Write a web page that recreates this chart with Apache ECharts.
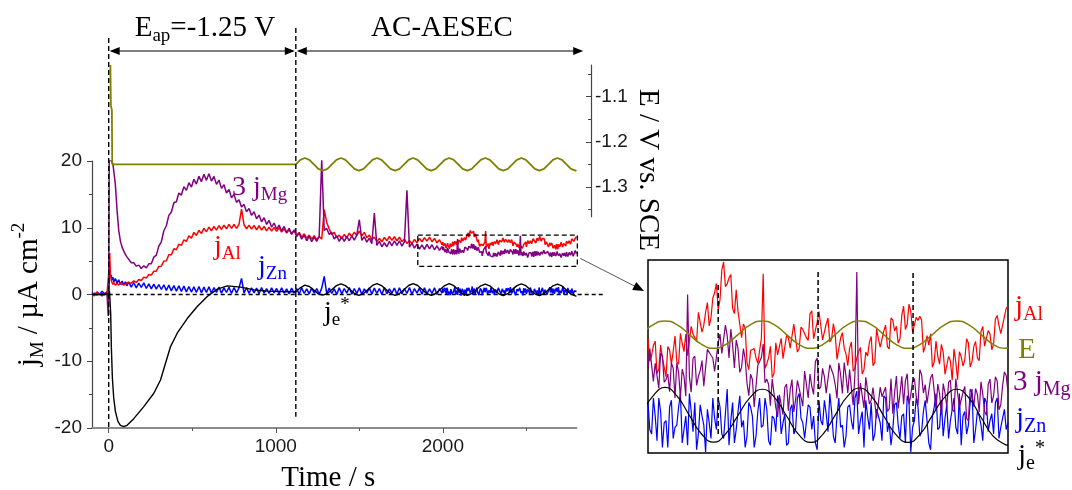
<!DOCTYPE html>
<html>
<head>
<meta charset="utf-8">
<script src="https://cdn.jsdelivr.net/npm/echarts@6/dist/echarts.min.js"></script>
<style>
html,body{margin:0;padding:0;background:#fff;}
#chart{width:1072px;height:490px;}
</style>
</head>
<body>
<div id="chart"></div>
<script>
// ---------- element-resolved currents (µA cm-2), t < 2000 s ----------
const timeEarly = [-100,-85,-70,-55,-40,-25,-10,-3,0,3,6,10,15,20,25,30,40,50,60,70,80,90,100,110,
  120,135,150,165,180,195,210,225,240,255,270,285,300,315,330,345,360,375,390,405,420,435,450,465,480,495,
  510,525,540,555,570,585,600,615,630,645,660,675,690,705,720,735,750,765,780,795,810,825,840,855,870,885,
  900,915,930,945,960,975,990,1005,1020,1035,1050,1065,1080,1095,1110,1125,1140,1155,1170,1185,1200,1215,
  1230,1245,1260,1275,1290,1305,1320,1335,1350,1365,1380,1395,1410,1425,1440,1455,1470,1485,1500,1515,
  1530,1545,1560,1575,1590,1605,1620,1635,1650,1665,1680,1695,1710,1725,1740,1755,1770,1785,1800,1815,
  1830,1845,1860,1875,1890,1905,1920,1935,1950,1965,1980,1995];

const alEarly = [0.1,-0.2,0.3,0.0,0.2,-0.1,0.2,0.0,0.3,4.0,6.2,3.2,2.2,1.8,1.5,1.8,1.4,1.7,1.4,1.8,1.5,1.7,1.5,1.8,
  1.95,1.7,2.05,1.8,2.25,2.1,2.6,2.45,3.0,2.9,
  3.5,3.5,4.2,4.25,5.0,5.05,5.95,5.95,6.85,6.7,
  7.55,7.35,8.2,7.95,8.8,8.45,9.3,8.85,9.6,9.15,
  9.9,9.4,10.1,9.55,10.2,9.65,10.3,9.75,10.4,9.85,
  10.5,9.9,10.5,9.9,10.5,12.8,10.45,9.85,10.4,9.8,
  10.35,9.7,10.3,9.65,10.2,9.55,10.1,9.5,10.05,9.45,
  10.0,9.35,9.85,9.2,9.7,9.05,9.6,8.9,9.3,8.6,
  9.1,8.45,8.9,8.3,8.8,8.2,8.7,8.3,12.7,10.8,
  9.8,9.0,9.3,8.5,8.9,8.35,9.0,8.5,9.2,8.7,
  9.35,8.85,9.5,8.8,9.3,8.5,8.9,8.2,8.6,7.95,
  8.4,7.9,8.55,8.05,8.7,8.1,8.65,8.05,8.6,7.9,
  8.3,7.65,8.1,7.6,8.25,7.75,8.4,7.9,8.5,8.0,
  8.6,7.9,8.4,7.75,8.2,7.45];

// 3 x j_Mg
const mgEarly = [0.0,0.2,-0.1,0.1,-0.2,0.1,0.0,-3.2,0.5,20.5,20.4,20.2,20.1,19.9,19.6,18.6,16.4,12.6,9.6,8.0,7.1,6.5,6.0,5.6,
  5.4,4.75,4.75,4.25,4.4,3.9,4.3,4.0,4.6,4.6,
  5.6,5.9,7.25,7.9,9.55,10.3,11.85,12.35,13.75,13.9,
  15.2,14.9,16.15,15.6,16.75,16.1,17.25,16.55,17.7,16.9,
  18.0,17.1,18.1,17.0,17.7,16.5,17.15,15.9,16.45,15.2,
  15.75,14.5,15.0,13.8,14.2,13.1,13.5,12.4,12.9,11.85,
  12.4,11.35,11.9,10.9,11.5,10.5,11.1,10.1,10.7,9.8,
  10.4,9.55,10.2,9.3,9.9,9.05,9.7,8.7,9.2,8.3,
  8.9,8.05,8.7,7.9,8.6,7.95,8.8,20.2,9.6,9.9,
  9.0,9.3,8.3,8.8,7.95,8.65,7.95,8.7,8.05,8.8,
  8.15,8.9,11.2,8.1,8.65,7.85,8.45,7.6,12.2,7.35,
  7.95,7.15,7.75,7.15,7.95,7.3,8.05,7.35,8.05,7.25,
  7.9,15.6,7.1,7.7,6.95,7.55,6.8,7.45,6.75,7.5,
  6.85,7.45,6.7,7.3,6.6,7.2];

const znEarly = [0.3,-0.1,0.4,0.0,0.5,0.1,0.4,-1.0,0.6,1.8,3.2,2.6,2.9,2.2,2.6,1.9,2.4,1.7,2.2,1.5,2.0,1.4,1.9,1.3,
  1.9,1.1,1.8,1.0,1.7,1.05,1.75,0.9,1.6,0.85,
  1.55,0.8,1.5,0.75,1.45,0.6,1.4,0.55,1.35,0.5,
  1.3,0.45,1.25,0.4,1.2,0.35,1.15,0.3,1.2,0.25,
  1.1,0.3,1.15,0.2,1.05,0.3,1.1,0.2,1.0,0.3,
  1.1,0.15,1.05,0.25,1.0,2.4,0.2,1.05,0.15,1.0,
  0.25,0.95,0.1,1.05,0.2,0.9,0.15,1.0,0.25,0.9,
  0.1,1.0,0.2,0.85,0.1,0.95,0.2,0.9,0.05,1.0,
  0.15,0.85,0.1,0.95,0.2,0.9,0.05,0.95,2.7,0.1,
  0.95,0.15,0.85,0.0,1.0,0.1,0.9,0.2,1.05,0.05,
  0.9,0.15,1.0,0.0,0.85,0.2,1.0,0.05,0.95,0.15,
  0.9,0.0,1.05,0.1,0.85,0.2,0.95,0.05,1.0,0.1,
  0.9,0.15,1.05,0.0,0.9,0.2,0.95,0.05,1.0,0.1,
  0.85,0.15,1.0,0.0,0.9,0.2];

// ---------- 2000 - 2800 s (also shown enlarged): samples at 2000 + 8k ----------
const timeLate = [2000,2008,2016,2024,2032,2040,2048,2056,2064,2072,2080,2088,2096,2104,2112,2120,2128,2136,2144,2152,
  2160,2168,2176,2184,2192,2200,2208,2216,2224,2232,2240,2248,2256,2264,2272,2280,2288,2296,2304,2312,
  2320,2328,2336,2344,2352,2360,2368,2376,2384,2392,2400,2408,2416,2424,2432,2440,2448,2456,2464,2472,
  2480,2488,2496,2504,2512,2520,2528,2536,2544,2552,2560,2568,2576,2584,2592,2600,2608,2616,2624,2632,
  2640,2648,2656,2664,2672,2680,2688,2696,2704,2712,2720,2728,2736,2744,2752,2760,2768,2776,2784,2792,2800];

const alLate = [7.84,7.40,7.77,7.05,7.34,6.86,7.54,7.51,7.24,7.97,
  7.50,7.40,8.15,7.95,8.51,8.00,8.51,8.16,8.87,9.25,
  8.83,9.80,9.24,9.48,8.48,8.54,7.86,8.10,7.04,7.51,
  7.34,7.20,9.50,7.19,7.64,6.94,7.42,7.84,7.34,7.85,
  7.62,8.25,7.58,8.07,7.86,8.47,7.83,8.26,8.49,7.75,
  8.36,7.83,7.95,7.25,7.99,7.44,7.59,7.00,7.34,7.61,
  7.04,7.39,7.89,7.23,7.82,7.62,8.18,7.57,8.31,8.15,
  7.83,8.67,8.21,8.53,8.01,8.30,8.31,7.65,7.67,7.10,
  7.77,7.18,7.49,6.90,7.26,7.57,6.78,7.37,7.29,7.72,
  7.24,7.76,7.27,8.15,7.67,7.95,7.70,8.43,7.96,8.40,
  8.67];

const mgLate = [6.64,7.06,6.77,6.22,6.93,6.41,6.14,6.66,6.78,6.00,
  6.48,8.30,6.13,6.93,6.48,6.83,6.29,7.06,6.89,6.63,
  7.42,6.95,7.39,7.53,6.67,7.10,6.68,6.86,6.05,6.41,
  5.83,6.70,7.20,6.42,5.83,6.40,5.58,6.06,6.24,5.72,
  6.41,5.96,6.21,5.82,6.57,6.53,6.08,6.89,6.25,6.47,
  6.10,6.72,6.30,6.78,6.10,6.48,6.63,5.84,8.80,6.33,
  5.78,6.44,5.95,6.21,5.54,6.03,6.24,5.76,5.65,6.49,
  6.10,5.86,6.54,6.07,6.43,5.84,6.52,6.30,5.91,6.53,
  5.73,6.09,6.32,5.80,6.40,5.70,6.11,5.83,6.26,5.49,
  6.10,6.21,5.69,6.08,5.62,6.42,6.05,6.38,5.85,6.58,
  6.12];

const znLate = [0.9,0.2,0.6,1.0,-0.1,0.5,0.8,0.1,0.4,1.1,
  0.3,-0.05,0.7,0.9,0.2,0.6,-0.2,0.45,1.0,0.3,
  0.8,0.1,1.2,0.5,0.0,0.7,0.35,-0.1,0.9,0.6,
  0.15,1.0,0.4,0.75,-0.05,0.55,1.05,0.2,0.65,0.0,
  0.85,0.3,1.1,0.45,0.1,0.8,0.6,-0.15,0.5,0.95,
  0.25,0.7,0.0,1.0,0.4,0.15,0.85,0.3,1.15,0.5,
  -0.1,0.6,0.9,0.2,0.75,0.05,1.0,0.45,0.3,0.9,
  0.1,0.65,1.05,-0.2,0.5,0.8,0.25,0.95,0.0,0.6,
  1.1,0.35,0.15,0.85,0.5,1.0,0.2,-0.05,0.7,0.4,
  1.2,0.3,0.6,0.05,0.9,0.5,0.2,1.0,0.35,0.75,
  0.45];

// ---------- same window, samples at 2004 + 8k ----------
const timeLateMid = [2004,2012,2020,2028,2036,2044,2052,2060,2068,2076,2084,2092,2100,2108,2116,2124,2132,2140,2148,2156,
  2164,2172,2180,2188,2196,2204,2212,2220,2228,2236,2244,2252,2260,2268,2276,2284,2292,2300,2308,2316,
  2324,2332,2340,2348,2356,2364,2372,2380,2388,2396,2404,2412,2420,2428,2436,2444,2452,2460,2468,2476,
  2484,2492,2500,2508,2516,2524,2532,2540,2548,2556,2564,2572,2580,2588,2596,2604,2612,2620,2628,2636,
  2644,2652,2660,2668,2676,2684,2692,2700,2708,2716,2724,2732,2740,2748,2756,2764,2772,2780,2788,2796];

const alLateMid = [7.25,7.66,6.94,7.67,7.30,7.63,7.18,7.90,7.18,7.71,
  7.95,7.40,7.95,7.76,8.53,8.18,8.76,8.37,9.01,8.59,
  9.59,9.17,9.39,8.61,9.09,8.20,8.21,7.22,7.53,7.58,
  7.20,7.85,7.07,7.34,6.84,7.73,7.63,7.32,7.92,7.59,
  8.21,7.49,8.13,8.02,7.79,8.55,8.05,8.53,7.80,8.21,
  7.75,8.22,7.30,7.85,7.59,7.14,7.75,7.07,7.50,6.93,
  7.49,7.74,7.14,8.08,7.62,8.03,7.63,8.37,8.03,7.72,
  8.43,8.07,8.72,8.00,8.38,8.41,7.48,7.91,7.96,7.24,
  7.38,7.69,6.92,7.38,6.77,7.23,7.50,7.13,7.83,7.11,
  7.63,7.34,8.01,7.64,8.04,7.55,8.34,8.17,7.93,8.61];

const mgLateMid = [7.10,6.37,6.80,7.00,6.35,6.53,6.78,6.00,6.57,6.64,
  6.04,6.47,6.88,6.28,6.61,6.26,7.08,6.95,6.59,7.23,
  6.99,7.62,6.89,7.18,7.29,6.57,7.10,6.33,6.53,5.80,
  6.72,6.90,6.34,6.30,6.42,5.79,6.07,5.63,6.31,6.19,
  5.69,6.39,6.24,6.60,6.00,6.26,6.81,6.20,6.66,6.11,
  6.74,6.51,5.99,6.52,6.79,6.11,6.21,6.56,5.86,6.31,
  6.46,5.87,6.23,5.55,6.24,5.99,5.70,6.43,6.12,5.77,
  6.48,6.38,5.86,6.38,6.04,6.63,6.11,5.88,6.45,6.16,
  6.31,5.63,6.11,6.35,5.75,6.43,5.80,6.12,5.55,6.20,
  5.81,6.08,6.36,5.70,6.30,5.89,6.47,5.74,6.27,6.50];

const znLateMid = [0.3,1.0,0.05,0.7,0.45,-0.1,0.95,0.35,0.8,0.0,
  0.6,1.1,0.25,-0.15,0.85,0.4,0.75,0.1,0.55,1.0,
  0.2,0.65,-0.05,0.9,0.3,1.05,0.5,0.15,0.8,-0.1,
  0.7,0.35,1.0,0.05,0.6,0.25,0.9,0.45,-0.05,0.75,
  0.2,1.0,0.55,0.1,0.85,0.3,0.0,0.95,0.4,0.65,
  1.1,0.15,0.6,0.35,-0.1,0.8,0.5,1.0,0.2,0.7,
  0.95,0.3,0.05,0.75,0.45,1.05,0.25,-0.05,0.85,0.4,
  0.6,0.0,0.9,0.35,1.0,0.15,0.7,0.5,-0.15,0.8,
  0.3,0.95,0.55,0.1,0.75,0.35,1.1,0.6,0.2,0.9,
  0.0,0.7,0.4,1.0,0.25,0.65,0.9,0.1,0.55,0.3];

// ---------- electrical current j_e* during the potentiostatic step ----------
const jeTimeDC = [-100,-50,0,5,9,12,16,22,30,40,55,70,90,110,150,210,270,310,340,370,410,470,530,590,650,710,790,870,950,1030,1100];
const jeDC = [0,0,0.1,0.5,0.4,-3,-8,-12.5,-15.5,-17.5,-19,-19.6,-19.8,-19.6,-18.6,-16.8,-14.8,-12.8,-10.3,-7.8,-5.8,-3.6,-1.8,-0.3,0.8,1.3,1.1,0.7,0.5,0.45,0.42];

// ---------- AC perturbation (from 1120 s) ----------
const acTime = [1120,1147,1174,1201,1228,1255,1282,1309,1336,1363,1390,1417,1444,1471,1498,1525,1552,1579,1606,1633,
  1660,1687,1714,1741,1768,1795,1822,1849,1876,1903,1930,1957,1984,2011,2038,2065,2092,2119,2146,2173,
  2200,2227,2254,2281,2308,2335,2362,2389,2416,2443,2470,2497,2524,2551,2578,2605,2632,2659,2686,2713,
  2740,2767,2794,2800];

const jeAC = [0.42,1.0,1.4,1.2,0.65,0.1,-0.1,0.15,
  0.74,1.33,1.6,1.33,0.74,0.15,-0.12,0.15,
  0.76,1.36,1.62,1.34,0.74,0.14,-0.12,0.14,
  0.75,1.35,1.62,1.35,0.75,0.15,-0.12,0.15,
  0.74,1.34,1.62,1.33,0.72,0.12,-0.14,0.13,
  0.72,1.3,1.56,1.3,0.7,0.1,-0.15,0.12,
  0.73,1.33,1.6,1.32,0.7,0.1,-0.15,0.12,
  0.72,1.3,1.56,1.28,0.66,0.05,-0.22,
  -0.24];

// potential, V vs. SCE
const potStepTime = [10,13,19,21];
const potStep = [-1.03,-1.12,-1.13,-1.25];
const potAC = [-1.25,-1.24,-1.236,-1.24,-1.25,-1.26,-1.264,-1.26,
  -1.25,-1.24,-1.236,-1.24,-1.25,-1.26,-1.264,-1.26,
  -1.25,-1.24,-1.236,-1.24,-1.25,-1.26,-1.264,-1.26,
  -1.25,-1.24,-1.236,-1.24,-1.25,-1.26,-1.264,-1.26,
  -1.25,-1.24,-1.236,-1.24,-1.25,-1.26,-1.264,-1.26,
  -1.25,-1.24,-1.236,-1.24,-1.25,-1.26,-1.264,-1.26,
  -1.25,-1.24,-1.236,-1.24,-1.25,-1.26,-1.264,-1.26,
  -1.25,-1.24,-1.236,-1.24,-1.25,-1.26,-1.264,
  -1.263];

// ---------- ticks ----------
const xTicks = [0, 1000, 2000];
const xMinorTicks = [500, 1500, 2500];
const eTicks = [-1.1, -1.2, -1.3];
const eMinorTicks = [-1.05, -1.15, -1.25, -1.35];

// ---------- annotation anchors (time in s, current in µA cm-2) ----------
const tStep = 0, tAC = 1120, tArrowEnd = 2840, tZeroEnd = 2970;
const zoomBox = {t0: 1850, t1: 2805, j0: 4.2, j1: 8.9};
const insetMarks = [2156, 2378, 2589];

const SERIF = '"Liberation Serif","Times New Roman",serif';
const SANS = '"Liberation Sans",Arial,sans-serif';
const COL = {al: '#ff0000', mg: '#800080', zn: '#0000ff', je: '#000000', e: '#808000'};

const zip = (ts, vs) => ts.map((t, i) => [t, vs[i]]);
// interleave two sample sets of the same window in time order
const merge = (tA, vA, tB, vB) => zip(tA, vA).concat(zip(tB, vB)).sort((a, b) => a[0] - b[0]);

const alWin = merge(timeLate, alLate, timeLateMid, alLateMid);
const mgWin = merge(timeLate, mgLate, timeLateMid, mgLateMid);
const znWin = merge(timeLate, znLate, timeLateMid, znLateMid);

const chart = echarts.init(document.getElementById('chart'), null, {renderer: 'canvas'});

function line(name, xi, yi, data, color, width, extra) {
  return Object.assign({
    name, type: 'line', xAxisIndex: xi, yAxisIndex: yi, data,
    showSymbol: false, symbol: 'none', clip: true, silent: true,
    lineStyle: {color, width, join: 'bevel'}, itemStyle: {color},
    emphasis: {disabled: true}
  }, extra || {});
}

const hiddenY = (min, max) => ({gridIndex: 2, type: 'value', min, max, show: false, splitLine: {show: false}});

const option = {
  animation: false,
  backgroundColor: '#ffffff',
  textStyle: {fontFamily: SANS},
  grid: [
    {left: 92, top: 161, width: 484.5, height: 267, outerBoundsMode: 'none'},
    {left: 92, top: 65, width: 484.5, height: 151.7, outerBoundsMode: 'none'},
    {left: 648, top: 260, width: 360, height: 193, show: true, borderColor: '#000', borderWidth: 1.5,
     backgroundColor: 'rgba(0,0,0,0)', outerBoundsMode: 'none'}
  ],
  xAxis: [
    {gridIndex: 0, type: 'value', position: 'bottom', min: -100, max: 2800,
     axisLine: {show: true, onZero: false, lineStyle: {color: '#8c8c8c', width: 2}},
     axisTick: {show: true, customValues: xTicks, length: 5, lineStyle: {color: '#555', width: 1}},
     axisLabel: {customValues: xTicks, formatter: v => String(v), color: '#1a1a1a', fontFamily: SANS, fontSize: 19, margin: 9},
     splitLine: {show: false},
     name: 'Time / s', nameLocation: 'middle', nameGap: 33, nameMoveOverlap: false,
     nameTextStyle: {fontFamily: SERIF, fontSize: 29, color: '#000', lineHeight: 34, padding: [0, 12, 0, 0]}},
    {gridIndex: 1, type: 'value', min: -100, max: 2800, show: false, splitLine: {show: false}},
    {gridIndex: 2, type: 'value', min: 2000, max: 2800, show: false, splitLine: {show: false}},
    {gridIndex: 0, type: 'value', position: 'bottom', min: -100, max: 2800,
     axisLine: {show: false, onZero: false},
     axisTick: {show: true, customValues: xMinorTicks, length: 3, lineStyle: {color: '#555', width: 1}},
     axisLabel: {show: false}, splitLine: {show: false}}
  ],
  yAxis: [
    {gridIndex: 0, type: 'value', position: 'left', min: -20, max: 20, interval: 10,
     axisLine: {show: true, onZero: false, lineStyle: {color: '#444', width: 1.2}},
     axisTick: {show: true, length: 5, lineStyle: {color: '#444', width: 1}},
     minorTick: {show: true, splitNumber: 2, length: 3, lineStyle: {color: '#444', width: 1}},
     axisLabel: {color: '#1a1a1a', fontFamily: SANS, fontSize: 19, margin: 10},
     splitLine: {show: false}, minorSplitLine: {show: false},
     name: '{m|j}{s|M}{m| / µA cm}{p|-2}', nameLocation: 'middle', nameRotate: 90, nameGap: 44,
     nameMoveOverlap: false,
     nameTextStyle: {fontFamily: SERIF, fontSize: 29, color: '#000', rich: {
       m: {fontFamily: SERIF, fontSize: 29, color: '#000', lineHeight: 38},
       s: {fontFamily: SERIF, fontSize: 19, color: '#000', lineHeight: 19, verticalAlign: 'bottom'},
       p: {fontFamily: SERIF, fontSize: 19, color: '#000', lineHeight: 19, verticalAlign: 'top'}
     }}},
    {gridIndex: 1, type: 'value', position: 'right', offset: 14.5, min: -1.366, max: -1.03,
     axisLine: {show: true, onZero: false, lineStyle: {color: '#444', width: 1.2}},
     axisTick: {show: true, inside: true, customValues: eTicks, length: 5, lineStyle: {color: '#444', width: 1}},
     axisLabel: {customValues: eTicks, formatter: v => v.toFixed(1), color: '#1a1a1a', fontFamily: SANS, fontSize: 19, margin: 4},
     splitLine: {show: false}},
    {gridIndex: 1, type: 'value', position: 'right', offset: 14.5, min: -1.366, max: -1.03,
     axisLine: {show: false, onZero: false},
     axisTick: {show: true, inside: true, customValues: eMinorTicks, length: 3, lineStyle: {color: '#444', width: 1}},
     axisLabel: {show: false}, splitLine: {show: false}},
    hiddenY(4.902, 9.851),    // inset j_Al
    hiddenY(4.778, 9.067),    // inset 3 j_Mg
    hiddenY(-0.222, 4.067),   // inset j_Zn
    hiddenY(-0.49, 5.715),    // inset j_e*
    hiddenY(-1.3714, -1.1735) // inset E
  ],
  series: [
    line('j_Zn', 0, 0, zip(timeEarly, znEarly).concat(znWin), COL.zn, 1.5),
    line('j_Al', 0, 0, zip(timeEarly, alEarly).concat(alWin), COL.al, 1.5),
    line('3 j_Mg', 0, 0, zip(timeEarly, mgEarly).concat(mgWin), COL.mg, 1.5),
    line('j_e*', 0, 0, zip(jeTimeDC.concat(acTime), jeDC.concat(jeAC)), COL.je, 1.4),
    line('E', 1, 1, zip(potStepTime.concat(acTime), potStep.concat(potAC)), COL.e, 1.8),

    line('j_Zn (enlarged)', 2, 5, znWin, COL.zn, 1.2),
    line('j_Al (enlarged)', 2, 3, alWin, COL.al, 1.2),
    line('3 j_Mg (enlarged)', 2, 4, mgWin, COL.mg, 1.2),
    line('j_e* (enlarged)', 2, 6, zip(acTime, jeAC), COL.je, 1.2, {smooth: 0.5}),
    line('E (enlarged)', 2, 7, zip(acTime, potAC), COL.e, 1.5, {smooth: 0.5})
  ]
};

chart.setOption(option);

// ---------- annotations placed through the axes ----------
function richStyle(color, size, sub) {
  return {
    m: {fontFamily: SERIF, fontSize: size, fill: color, lineHeight: size + 6},
    s: {fontFamily: SERIF, fontSize: sub, fill: color, lineHeight: sub, verticalAlign: 'bottom'},
    p: {fontFamily: SERIF, fontSize: sub, fill: color, lineHeight: sub, verticalAlign: 'top'}
  };
}
function label(x, y, text, color, size, sub, align) {
  return {type: 'text', x, y, z: 100, silent: true,
    style: {text, rich: richStyle(color, size, sub), fontFamily: SERIF, fontSize: size, fill: color,
            align: align || 'left', verticalAlign: 'middle', textAlign: align || 'left', textVerticalAlign: 'middle'}};
}
function seg(x1, y1, x2, y2, style, z) {
  return {type: 'line', z: z == null ? 100 : z, silent: true, shape: {x1, y1, x2, y2},
    style: Object.assign({stroke: '#000', lineWidth: 1.3, fill: null}, style)};
}
function head(tip, dx, dy, len, half, color) {
  const n = Math.hypot(dx, dy); dx /= n; dy /= n;
  const bx = tip[0] - dx * len, by = tip[1] - dy * len;
  const nx = -dy * half, ny = dx * half;
  return {type: 'polygon', z: 101, silent: true,
    shape: {points: [tip, [bx + nx, by + ny], [bx - nx, by - ny]]}, style: {fill: color || '#000'}};
}

function annotate() {
  const P = (t, v) => chart.convertToPixel({xAxisIndex: 0, yAxisIndex: 0}, [t, v]);
  const PX = t => chart.convertToPixel({xAxisIndex: 2, yAxisIndex: 3}, [t, 6])[0];
  const dash = {lineDash: [5, 3], lineWidth: 1.4};
  const g = [];

  const [xS, yBot] = P(tStep, -20);
  const [xA, yAEnd] = P(tAC, -18.3);
  const [xE, y0] = P(tArrowEnd, 0);
  const xZ = P(tZeroEnd, 0)[0];
  const yArr = 51;

  // period boundaries
  g.push(seg(xS, 38, xS, yBot, dash));
  g.push(seg(xA, 28, xA, yAEnd, dash));
  // zero line
  g.push(seg(xS, y0, xZ, y0, {lineDash: [4, 3], lineWidth: 1.3}, 1));

  // period arrows
  g.push(seg(xS + 3, yArr, xA - 3, yArr, {lineWidth: 1.2}));
  g.push(head([xS + 1, yArr], -1, 0, 10, 4));
  g.push(head([xA - 1, yArr], 1, 0, 10, 4));
  g.push(seg(xA + 3, yArr, xE - 3, yArr, {lineWidth: 1.2}));
  g.push(head([xA + 1, yArr], -1, 0, 10, 4));
  g.push(head([xE, yArr], 1, 0, 10, 4));

  // enlarged window marker
  const b0 = P(zoomBox.t0, zoomBox.j1), b1 = P(zoomBox.t1, zoomBox.j0);
  g.push({type: 'rect', z: 100, silent: true,
    shape: {x: b0[0], y: b0[1], width: b1[0] - b0[0], height: b1[1] - b0[1]},
    style: {fill: null, stroke: '#000', lineWidth: 1.3, lineDash: [5, 3]}});
  const c0 = [b1[0] + 3, b1[1] - 8], tip = [644, 291];
  g.push(seg(c0[0], c0[1], tip[0] - 6, tip[1] - 3.2, {stroke: '#555', lineWidth: 1}));
  g.push(head(tip, tip[0] - c0[0], tip[1] - c0[1], 11, 4.5));

  // inset guide lines
  const guideY = [[285, 435], [272, 423], [273, 423]];
  insetMarks.forEach((t, i) => {
    const x = PX(t);
    g.push(seg(x, guideY[i][0], x, guideY[i][1], {lineDash: [5, 3], lineWidth: 1.5}));
  });

  // headings
  g.push(label(205, 28, '{m|E}{s|ap}{m|=-1.25 V}', '#000', 29, 19, 'center'));
  g.push(label(442, 28, '{m|AC-AESEC}', '#000', 29, 19, 'center'));

  // potential axis title
  g.push({type: 'text', x: 648, y: 170, rotation: -Math.PI / 2, z: 100, silent: true,
    style: {text: 'E / V vs. SCE', fontFamily: SERIF, fontSize: 29, fill: '#000',
            align: 'center', verticalAlign: 'middle', textAlign: 'center', textVerticalAlign: 'middle'}});

  // trace labels, main plot
  g.push(label(232, 188, '{m|3 j}{s|Mg}', COL.mg, 28, 19));
  g.push(label(214, 247, '{m|j}{s|Al}', COL.al, 28, 19));
  g.push(label(258, 267, '{m|j}{s|Zn}', COL.zn, 28, 19));
  g.push(label(324, 313, '{m|j}{s|e}{p|*}', COL.je, 28, 19));

  // trace labels, enlarged view
  g.push(label(1015, 307, '{m|j}{s|Al}', COL.al, 29, 20));
  g.push(label(1018, 350, '{m|E}', COL.e, 29, 20));
  g.push(label(1013, 382, '{m|3 j}{s|Mg}', COL.mg, 29, 20));
  g.push(label(1016, 419, '{m|j}{s|Zn}', COL.zn, 29, 20));
  g.push(label(1018, 456, '{m|j}{s|e}{p|*}', COL.je, 29, 20));

  chart.setOption({graphic: g});
}
annotate();
</script>
</body>
</html>
